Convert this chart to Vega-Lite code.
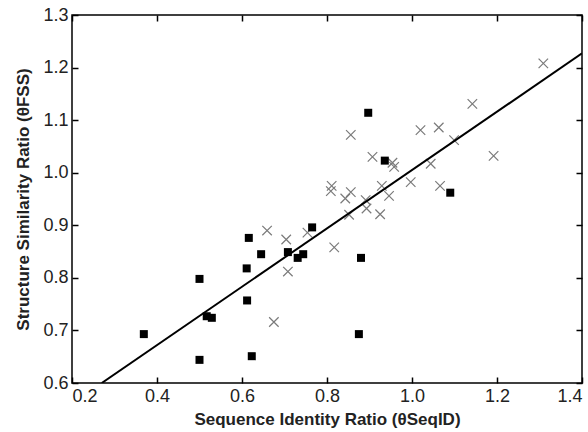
{
  "$schema": "https://vega.github.io/schema/vega-lite/v6.json",
  "width": 510,
  "height": 368,
  "autosize": "none",
  "padding": {"left": 72, "top": 15, "right": 6, "bottom": 49},
  "config": {
    "view": {"stroke": "black", "strokeWidth": 1.5},
    "axis": {
      "domain": false,
      "grid": false,
      "labelFont": "Liberation Sans",
      "labelFontSize": 18,
      "labelColor": "#222",
      "titleFont": "Liberation Sans",
      "titleFontSize": 17,
      "titleFontWeight": "bold",
      "titleColor": "#222"
    }
  },
  "datasets": {
    "points": [
      {"x": 0.369, "y": 0.693, "group": "square"},
      {"x": 0.500, "y": 0.798, "group": "square"},
      {"x": 0.500, "y": 0.644, "group": "square"},
      {"x": 0.517, "y": 0.727, "group": "square"},
      {"x": 0.529, "y": 0.724, "group": "square"},
      {"x": 0.616, "y": 0.876, "group": "square"},
      {"x": 0.611, "y": 0.818, "group": "square"},
      {"x": 0.612, "y": 0.757, "group": "square"},
      {"x": 0.623, "y": 0.651, "group": "square"},
      {"x": 0.645, "y": 0.845, "group": "square"},
      {"x": 0.708, "y": 0.849, "group": "square"},
      {"x": 0.731, "y": 0.838, "group": "square"},
      {"x": 0.744, "y": 0.845, "group": "square"},
      {"x": 0.765, "y": 0.896, "group": "square"},
      {"x": 0.880, "y": 0.838, "group": "square"},
      {"x": 0.875, "y": 0.693, "group": "square"},
      {"x": 0.897, "y": 1.114, "group": "square"},
      {"x": 0.936, "y": 1.023, "group": "square"},
      {"x": 1.090, "y": 0.962, "group": "square"},
      {"x": 0.659, "y": 0.890, "group": "cross"},
      {"x": 0.704, "y": 0.873, "group": "cross"},
      {"x": 0.708, "y": 0.812, "group": "cross"},
      {"x": 0.675, "y": 0.716, "group": "cross"},
      {"x": 0.754, "y": 0.886, "group": "cross"},
      {"x": 0.817, "y": 0.858, "group": "cross"},
      {"x": 0.852, "y": 0.920, "group": "cross"},
      {"x": 0.925, "y": 0.921, "group": "cross"},
      {"x": 0.893, "y": 0.932, "group": "cross"},
      {"x": 0.891, "y": 0.948, "group": "cross"},
      {"x": 0.946, "y": 0.956, "group": "cross"},
      {"x": 0.929, "y": 0.975, "group": "cross"},
      {"x": 0.843, "y": 0.951, "group": "cross"},
      {"x": 0.856, "y": 0.963, "group": "cross"},
      {"x": 0.809, "y": 0.965, "group": "cross"},
      {"x": 0.811, "y": 0.975, "group": "cross"},
      {"x": 0.997, "y": 0.982, "group": "cross"},
      {"x": 1.066, "y": 0.975, "group": "cross"},
      {"x": 1.044, "y": 1.017, "group": "cross"},
      {"x": 0.958, "y": 1.011, "group": "cross"},
      {"x": 0.954, "y": 1.019, "group": "cross"},
      {"x": 1.192, "y": 1.032, "group": "cross"},
      {"x": 0.907, "y": 1.030, "group": "cross"},
      {"x": 1.099, "y": 1.062, "group": "cross"},
      {"x": 1.063, "y": 1.086, "group": "cross"},
      {"x": 1.020, "y": 1.081, "group": "cross"},
      {"x": 0.856, "y": 1.072, "group": "cross"},
      {"x": 1.142, "y": 1.131, "group": "cross"},
      {"x": 1.309, "y": 1.208, "group": "cross"}
    ],
    "fit": [
      {"x": 0.27, "y": 0.6},
      {"x": 1.4, "y": 1.227}
    ]
  },
  "layer": [
    {
      "data": {"name": "points"},
      "transform": [{"filter": "datum.group === 'cross'"}],
      "mark": {"type": "point", "shape": "M-1,-1L1,1M1,-1L-1,1", "filled": false, "stroke": "#7a7a7a", "strokeWidth": 1.2, "size": 90, "opacity": 1},
      "encoding": {
        "x": {"field": "x", "type": "quantitative", "scale": {"domain": [0.2, 1.4], "nice": false, "zero": false},
              "axis": {"orient": "bottom", "values": [0.2, 0.4, 0.6, 0.8, 1.0, 1.2, 1.4], "format": ".1f", "title": "Sequence Identity Ratio (θSeqID)", "labelPadding": 4, "titlePadding": 6, "ticks": true, "tickSize": 6, "tickWidth": 1.5, "tickColor": "#000000", "tickOpacity": 1, "offset": -6, "zindex": 2}},
        "y": {"field": "y", "type": "quantitative", "scale": {"domain": [0.6, 1.3], "nice": false, "zero": false},
              "axis": {"orient": "left", "values": [0.6, 0.7, 0.8, 0.9, 1.0, 1.1, 1.2, 1.3], "format": ".1f", "title": "Structure Similarity Ratio (θFSS)", "labelPadding": 4, "titlePadding": 10, "ticks": true, "tickSize": 6, "tickWidth": 1.5, "tickColor": "#000000", "tickOpacity": 1, "offset": -6, "zindex": 2}}
      }
    },
    {
      "data": {"name": "points"},
      "transform": [{"filter": "datum.group === 'square'"}],
      "mark": {"type": "point", "shape": "square", "filled": true, "color": "black", "size": 64, "opacity": 1},
      "encoding": {
        "x": {"field": "x", "type": "quantitative", "axis": null},
        "y": {"field": "y", "type": "quantitative", "axis": null}
      }
    },
    {
      "data": {"name": "fit"},
      "mark": {"type": "line", "color": "black", "strokeWidth": 2, "clip": true},
      "encoding": {
        "x": {"field": "x", "type": "quantitative",
              "axis": {"orient": "top", "values": [0.2, 0.4, 0.6, 0.8, 1.0, 1.2, 1.4], "labels": false, "title": null, "ticks": true, "tickSize": 6, "tickWidth": 1.5, "tickColor": "#000000", "tickOpacity": 1, "offset": -6, "zindex": 2}},
        "y": {"field": "y", "type": "quantitative",
              "axis": {"orient": "right", "values": [0.6, 0.7, 0.8, 0.9, 1.0, 1.1, 1.2, 1.3], "labels": false, "title": null, "ticks": true, "tickSize": 6, "tickWidth": 1.5, "tickColor": "#000000", "tickOpacity": 1, "offset": -6, "zindex": 2}}
      }
    }
  ],
  "resolve": {"axis": {"x": "independent", "y": "independent"}}
}
